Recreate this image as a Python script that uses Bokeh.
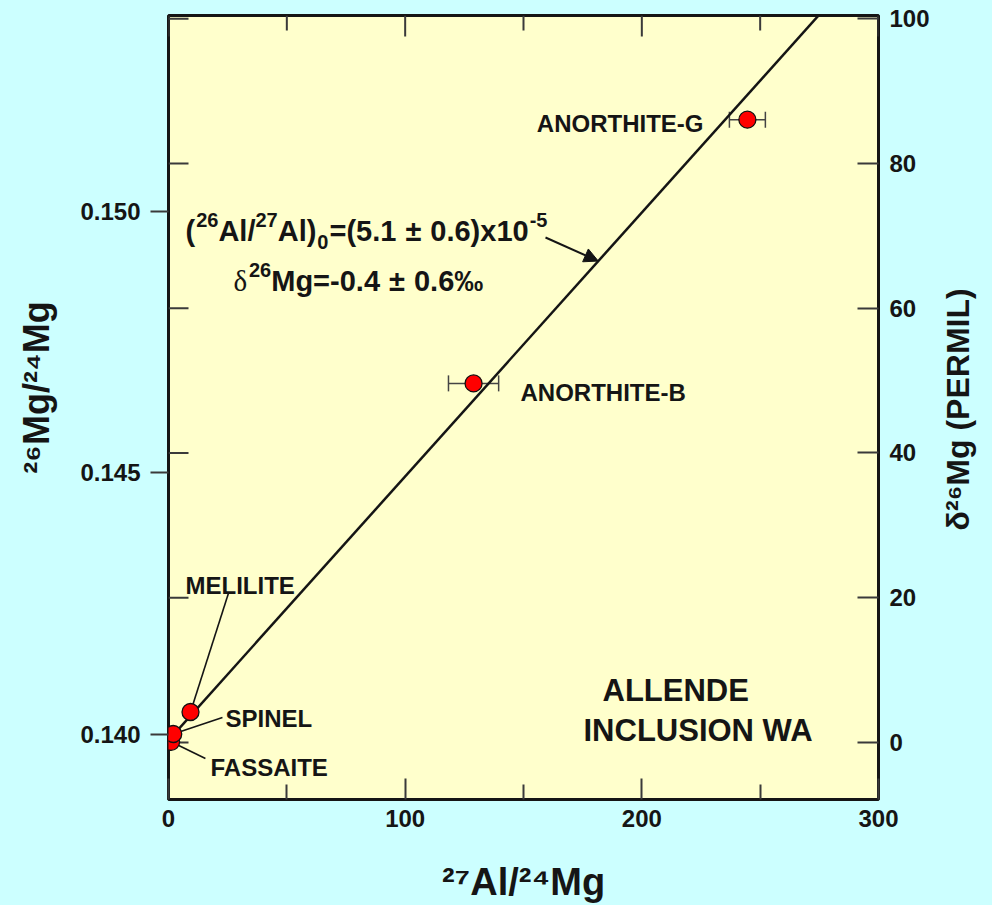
import math
from bokeh.plotting import figure
from bokeh.models import (Range1d, LinearAxis, FixedTicker, PrintfTickFormatter, Label,
                          ColumnDataSource, Whisker, TeeHead, Arrow, NormalHead)
from bokeh.embed import file_html
from bokeh.resources import INLINE

# ---------------- data ----------------
minerals = ["FASSAITE", "SPINEL", "MELILITE", "ANORTHITE-B", "ANORTHITE-G"]
al_mg = [1.1, 2.0, 9.3, 128.9, 244.6]            # 27Al/24Mg
al_mg_err = [0.0, 0.0, 0.0, 10.6, 7.6]           # +/- on 27Al/24Mg
mg_ratio = [0.13986, 0.14001, 0.14043, 0.14671, 0.15175]  # 26Mg/24Mg

fit_slope = 5.043e-5        # isochron slope
fit_intercept = 0.139889    # isochron intercept

x_ticks = [0, 100, 200, 300]
x_minor_ticks = [50, 150, 250]
ratio_ticks = [0.140, 0.145, 0.150]
delta_ticks = [0, 20, 40, 60, 80, 100]

x_lim = (0, 300)
ratio_lim = (0.138758, 0.15374)
delta_lim = (-7.88, 100.45)

x_title = "\u00b2\u2077Al/\u00b2\u2074Mg"
y_title = "\u00b2\u2076Mg/\u00b2\u2074Mg"
y2_title = "\u03b4\u00b2\u2076Mg (PERMIL)"

# ---------------- style / layout ----------------
CYAN = "#CCFFFF"
YELLOW = "#FFFFCC"
INK = "#151515"
TICK = "#3a3a3a"
SANS = "Liberation Sans"
SERIF = "Liberation Serif"
NBSP = "\u00a0"

FRAME_L, FRAME_T, FRAME_W, FRAME_H = 168, 15, 710, 784

p = figure(frame_width=FRAME_W, frame_height=FRAME_H,
           x_range=Range1d(*x_lim), y_range=Range1d(*ratio_lim),
           x_axis_location=None, y_axis_location=None,
           output_backend="svg", toolbar_location=None,
           min_border_left=FRAME_L, min_border_right=112,
           min_border_top=FRAME_T, min_border_bottom=105)
p.extra_y_ranges = {"delta": Range1d(*delta_lim)}
p.background_fill_color = YELLOW
p.border_fill_color = CYAN
p.outline_line_color = INK
p.outline_line_width = 3
p.grid.visible = False


def style_axis(ax, tin, tout, minor_in=0, standoff=10, size="24px"):
    ax.axis_line_color = None
    ax.major_tick_in = tin
    ax.major_tick_out = tout
    ax.minor_tick_in = minor_in
    ax.minor_tick_out = 0
    ax.major_tick_line_color = TICK
    ax.minor_tick_line_color = TICK
    ax.major_tick_line_width = 2
    ax.minor_tick_line_width = 2
    ax.major_label_text_font = SANS
    ax.major_label_text_font_style = "bold"
    ax.major_label_text_color = INK
    ax.major_label_text_font_size = size
    ax.major_label_standoff = standoff
    ax.axis_label_text_font = SANS
    ax.axis_label_text_font_style = "bold"
    ax.axis_label_text_color = INK


xb = LinearAxis(ticker=FixedTicker(ticks=x_ticks, minor_ticks=x_minor_ticks))
style_axis(xb, 21, 0, minor_in=15, standoff=10)
xb.axis_label = x_title
xb.axis_label_text_font_size = "38px"
xb.axis_label_standoff = 31
p.add_layout(xb, "below")

yl = LinearAxis(ticker=FixedTicker(ticks=ratio_ticks), formatter=PrintfTickFormatter(format="%.3f"))
style_axis(yl, 0, 18, standoff=10)
yl.axis_label = NBSP * 4 + y_title
yl.axis_label_text_font_size = "36px"
yl.axis_label_standoff = 20
p.add_layout(yl, "left")

yr = LinearAxis(y_range_name="delta", ticker=FixedTicker(ticks=delta_ticks))
style_axis(yr, 21, 0, standoff=11)
p.add_layout(yr, "right")

# right-hand title, written bottom-to-top and starting at the delta value below
y2_title_start = 29.3
yr_title = LinearAxis(y_range_name="delta", ticker=FixedTicker(ticks=[y2_title_start]),
                      major_label_overrides={y2_title_start: y2_title},
                      major_label_orientation=math.pi / 2)
style_axis(yr_title, 0, 0, standoff=26, size="32px")
p.add_layout(yr_title, "right")

# inner ticks on the left (delta scale) and on the top (x scale)
p.ray(x=[x_lim[0]] * len(delta_ticks), y=delta_ticks, length=20, angle=0,
      length_units="screen", y_range_name="delta", line_color=TICK, line_width=2)
p.ray(x=x_ticks, y=[ratio_lim[1]] * len(x_ticks), length=21, angle=-math.pi / 2,
      length_units="screen", line_color=TICK, line_width=2)
p.ray(x=x_minor_ticks, y=[ratio_lim[1]] * len(x_minor_ticks), length=15, angle=-math.pi / 2,
      length_units="screen", line_color=TICK, line_width=2)

# ---------------- marks ----------------
src = ColumnDataSource(dict(x=al_mg, y=mg_ratio, name=minerals))

err_idx = [i for i, e in enumerate(al_mg_err) if e > 0]
err_src = ColumnDataSource(dict(y=[mg_ratio[i] for i in err_idx],
                                lo=[al_mg[i] - al_mg_err[i] for i in err_idx],
                                hi=[al_mg[i] + al_mg_err[i] for i in err_idx]))
p.add_layout(Whisker(source=err_src, base="y", lower="lo", upper="hi", dimension="width",
                     line_color="#444444", line_width=1.5,
                     lower_head=TeeHead(size=16, line_color="#444444", line_width=1.5),
                     upper_head=TeeHead(size=16, line_color="#444444", line_width=1.5)))

# isochron
fx = [x_lim[0], x_lim[1]]
p.line(fx, [fit_intercept + fit_slope * v for v in fx], line_color=INK, line_width=2.5)

# leader lines (start of each leader, in data units) -> to the point
leaders = {"MELILITE": (25.3, 0.142694), "SPINEL": (22.8, 0.140325), "FASSAITE": (15.6, 0.139541)}
lx0, ly0, lx1, ly1 = [], [], [], []
for name, (sx, sy) in leaders.items():
    i = minerals.index(name)
    lx0.append(sx); ly0.append(sy); lx1.append(al_mg[i]); ly1.append(mg_ratio[i])
p.segment(lx0, ly0, lx1, ly1, line_color=INK, line_width=1.6)

p.scatter("x", "y", source=src, size=17, fill_color="#FF0000", line_color="#111111", line_width=1.3)

# arrow pointing to the isochron
arrow_x0, arrow_y0, arrow_x1 = 159.3, 0.149497, 181.6
p.add_layout(Arrow(x_start=arrow_x0, y_start=arrow_y0, x_end=arrow_x1,
                   y_end=fit_intercept + fit_slope * arrow_x1,
                   line_color=INK, line_width=2,
                   end=NormalHead(size=14, fill_color=INK, line_color=INK)))

# ---------------- texts inside the frame (page pixels -> frame screen units) ----------------
BOLD_W = {"0": 556, "1": 556, "2": 556, "3": 556, "4": 556, "5": 556, "6": 556, "7": 556,
          "8": 556, "9": 556, " ": 278, "(": 333, ")": 333, "/": 278, "=": 584, ".": 278,
          "-": 333, "\u00b1": 549, "\u2030": 1000, "x": 556, "A": 722, "l": 278, "M": 833,
          "g": 611, "\u03b4": 500}


def width(s, size):
    return sum(BOLD_W.get(c, 600) for c in s) * size / 1000.0


def txt(text, ix, iy, size, font=SANS, style="bold", align="left"):
    p.add_layout(Label(x=ix - FRAME_L, y=(FRAME_T + FRAME_H) - iy, x_units="screen", y_units="screen",
                       text=text, text_font=font, text_font_size=f"{size}px",
                       text_font_style=style, text_color=INK, text_align=align,
                       text_baseline="alphabetic"))


def run(parts, ix, iy, main, small):
    x = ix
    for text, kind, gap in parts:
        x += gap
        if kind == "sup":
            txt(text, x, iy - 11, small); x += width(text, small)
        elif kind == "sub":
            txt(text, x, iy + 11, small); x += width(text, small)
        elif kind == "greek":
            txt(text, x, iy, main, font=SERIF, style="normal"); x += width(text, main)
        else:
            txt(text, x, iy, main); x += width(text, main)


# mineral labels
txt("ANORTHITE-G", 703, 123, 24, align="right")
txt("ANORTHITE-B", 520, 392, 24)
txt("MELILITE", 185, 585, 24)
txt("SPINEL", 225, 718, 24)
txt("FASSAITE", 210, 767, 24)
txt("ALLENDE", 602, 690, 31)
txt("INCLUSION WA", 583, 730, 31)

# isochron annotation
run([("(", "m", 0), ("26", "sup", 1), ("Al/", "m", 0), ("27", "sup", 0), ("Al)", "m", 0),
     ("0", "sub", 1), ("=(5.1", "m", 1), ("\u00b1", "m", 9), ("0.6)x10", "m", 9), ("-5", "sup", 1)],
    185, 230, 29, 20)
run([("\u03b4", "greek", 0), ("26", "sup", 1), ("Mg=-0.4", "m", 0), ("\u00b1", "m", 9),
     ("0.6\u2030", "m", 9)],
    233, 280, 29, 20)

html = file_html(p, INLINE, title="Al-Mg isochron")
html = html.replace("<head>", "<head><style>html,body{background:%s;}</style>" % CYAN, 1)
with open("out.html", "w") as f:
    f.write(html)
